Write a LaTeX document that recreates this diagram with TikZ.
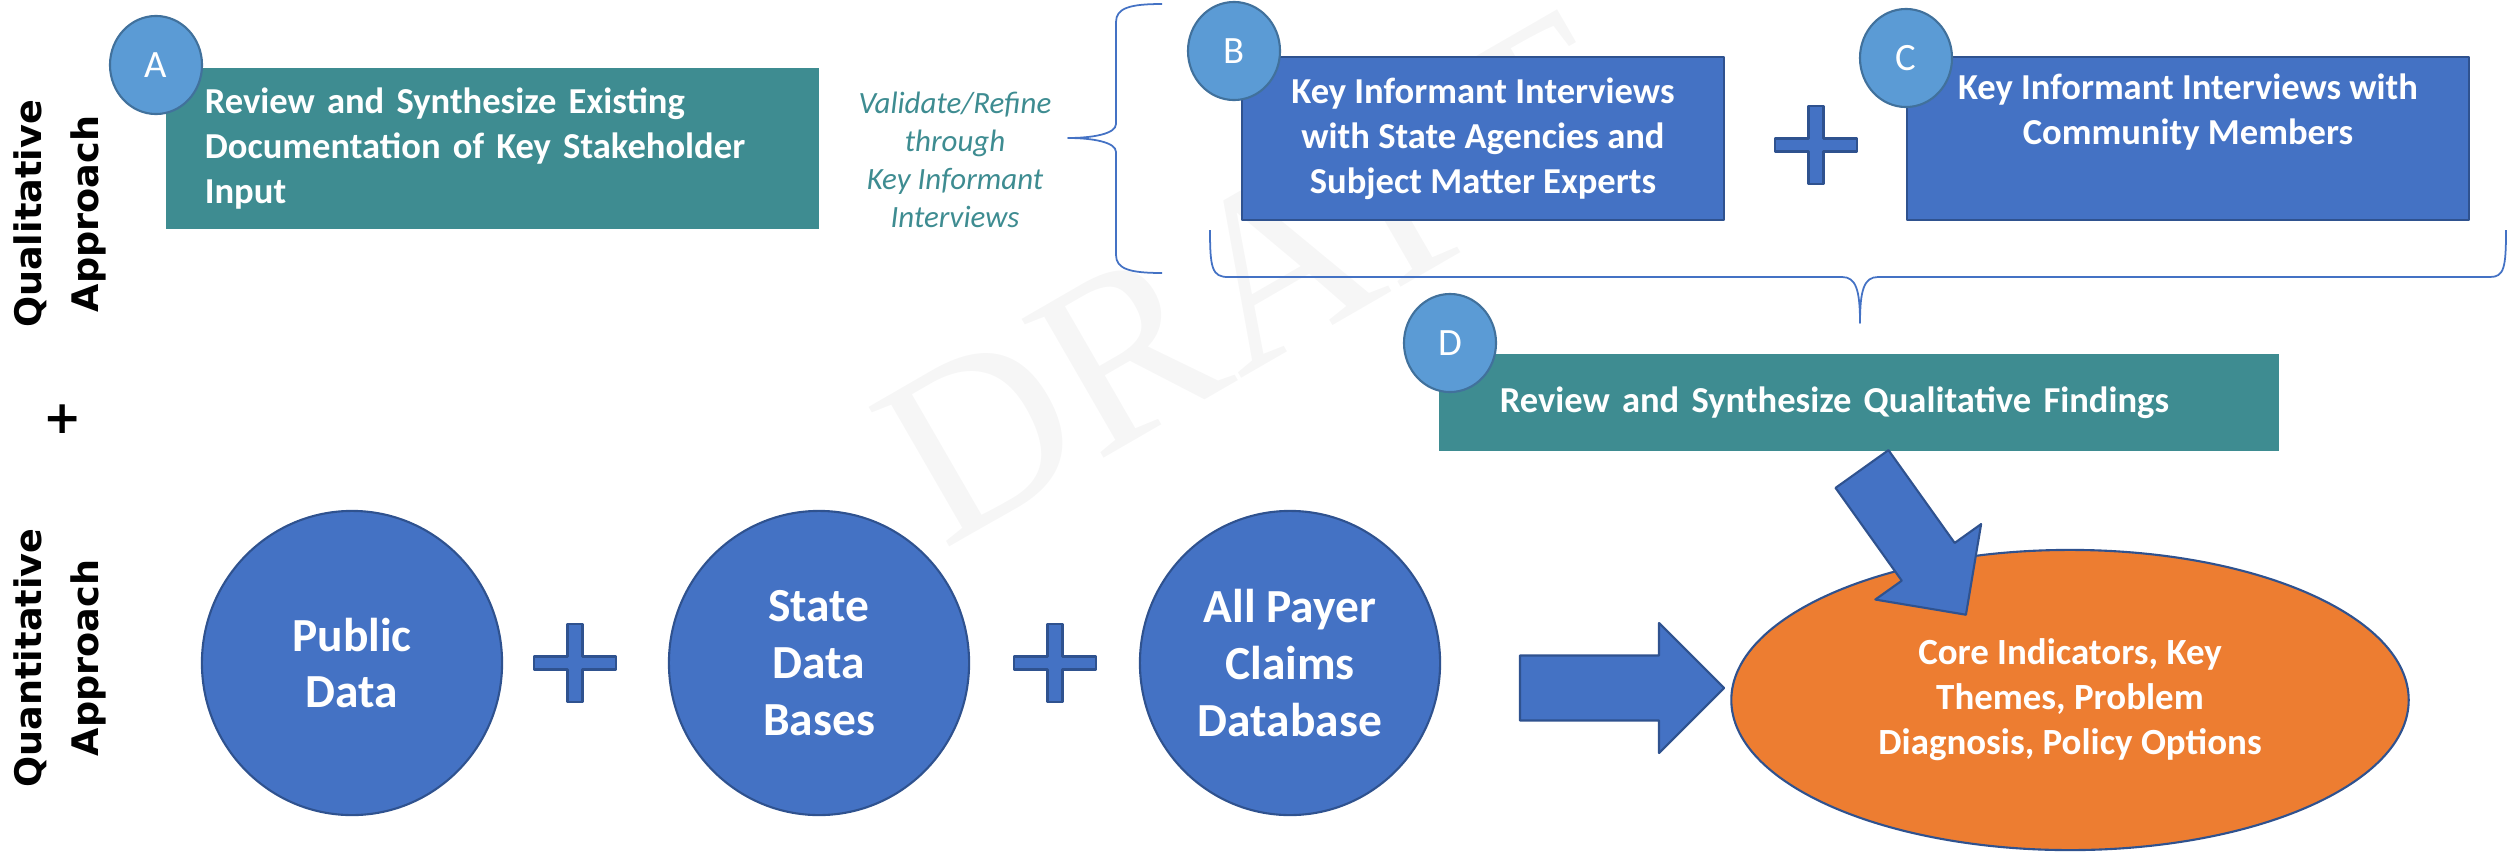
\documentclass[tikz,border=0pt]{standalone}
\usepackage{fontspec}
\setmainfont{Carlito}
\newfontfamily\labelfont{DejaVu Sans}
\newfontfamily\draftfont{Liberation Serif}
\usetikzlibrary{shapes.geometric}
\definecolor{tealbox}{HTML}{3E8C91}
\definecolor{bluebox}{HTML}{4472C4}
\definecolor{blueline}{HTML}{2F528F}
\definecolor{letterblue}{HTML}{5B9BD5}
\definecolor{letterline}{HTML}{41719C}
\definecolor{orangeoval}{HTML}{ED7D31}
\begin{document}
\begin{tikzpicture}[x=0.01cm, y=-0.01cm, line join=round,
  boxtxt/.style={font=\fontsize{10.4}{12.8}\selectfont\bfseries, text=white},
  tealrect/.style={boxtxt, rectangle, fill=tealbox, inner ysep=0pt},
  bluerect/.style={boxtxt, rectangle, fill=bluebox, draw=blueline, line width=0.7pt, minimum width=4.82cm, minimum height=1.63cm, align=center},
  letter/.style={ellipse, fill=letterblue, draw=letterline, line width=0.6pt, minimum width=0.92cm, minimum height=0.98cm, inner sep=0pt, text=white, font=\fontsize{11}{13}\selectfont},
  datacircle/.style={ellipse, fill=bluebox, draw=blueline, line width=0.6pt, minimum width=3cm, minimum height=3.04cm, align=center, text=white, font=\fontsize{13.5}{16.1}\selectfont\bfseries},
  bracket/.style={draw=bluebox, line width=0.5pt},
  approach/.style={rotate=90, align=center, font=\labelfont\fontsize{10.4}{16.2}\selectfont\bfseries},
  plussign/.pic={\filldraw[fill=bluebox, draw=blueline, line width=0.6pt] (-41,-6.5) -- (-7.5,-6.5) -- (-7.5,-39) -- (7.5,-39) -- (7.5,-6.5) -- (41,-6.5) -- (41,6.5) -- (7.5,6.5) -- (7.5,39) -- (-7.5,39) -- (-7.5,6.5) -- (-41,6.5) -- cycle;},
  pics/blockarrow/.style={code={\filldraw[fill=bluebox, draw=blueline, line width=0.6pt] (0,-32.5) -- (#1-65,-32.5) -- (#1-65,-65) -- (#1,0) -- (#1-65,65) -- (#1-65,32.5) -- (0,32.5) -- cycle;}}]
	\def\rowy{663}
	\useasboundingbox (0,0) rectangle (2509,851);
	\node[font=\draftfont\fontsize{70}{70}\selectfont, text=gray!7, rotate=30] (draft) at (1252,279) {DRAFT};
	\node[approach] (qual) at (60,214) {Qualitative\\Approach};
	\node[font=\labelfont\fontsize{13}{13}\selectfont\bfseries] (plus) at (63,419) {+};
	\node[approach] (quant) at (60,658) {Quantitative\\Approach};
	\node[tealrect, text width=5.75cm, inner xsep=0.39cm, minimum height=1.61cm, align=left] (revA) at (492.5,148.5) {Review and Synthesize Existing\\Documentation of Key Stakeholder\\Input};
	\node[text=tealbox, align=center, font=\fontsize{8.8}{10.8}\selectfont\itshape] (valid) at (955,160) {Validate/Refine\\through\\Key Informant\\Interviews};
	\draw[bracket] (1162,4) .. controls (1130,4) and (1116,8) .. (1116,22) -- (1116,124) .. controls (1116,134) and (1092,138) .. (1068,138) .. controls (1092,138) and (1116,142) .. (1116,152) -- (1116,255) .. controls (1116,269) and (1130,273) .. (1162,273);
	\node[bluerect] (kiB) at (1483,138.5) {Key Informant Interviews\\with State Agencies and\\Subject Matter Experts};
	\node[bluerect, minimum width=5.62cm] (kiC) at (2188,138.5) {Key Informant Interviews with\\Community Members\\\strut};
	\pic at (1816,145) {plussign};
	\draw[bracket] (1210,230) .. controls (1210,268) and (1212,277) .. (1228,277) -- (1842,277) .. controls (1856,277) and (1860,290) .. (1860,323) .. controls (1860,290) and (1864,277) .. (1878,277) -- (2490,277) .. controls (2504,277) and (2506,268) .. (2506,230);
	\node[tealrect, text width=7.18cm, inner xsep=0.61cm, minimum height=0.97cm, align=left] (revD) at (1859,402.5) {Review and Synthesize Qualitative Findings};
	\node[letter] (A) at (156,65) {A};
	\node[letter] (B) at (1234,51) {B};
	\node[letter] (C) at (1906,58) {C};
	\node[letter] (D) at (1450,343) {D};
	\node[datacircle] (pub) at (352,\rowy) {Public\\Data};
	\pic at (575,\rowy) {plussign};
	\node[datacircle] (state) at (819,\rowy) {State\\Data\\Bases};
	\pic at (1055,\rowy) {plussign};
	\node[datacircle] (apcd) at (1290,\rowy) {All Payer\\Claims\\Database};
	\node[ellipse, fill=orangeoval, draw=blueline, line width=0.6pt, minimum width=6.77cm, minimum height=3cm, align=center, text=white, font=\fontsize{10.5}{12.8}\selectfont\bfseries] (core) at (2070,700) {Core Indicators, Key\\Themes, Problem\\Diagnosis, Policy Options};
	\pic (toCore) at (1520,688) {blockarrow=204};
	\pic[rotate=-54.5] (fromD) at (1862,469) {blockarrow=179};
\end{tikzpicture}
\end{document}
